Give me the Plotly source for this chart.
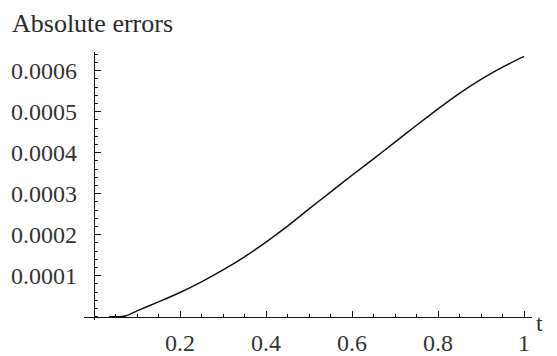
import plotly.graph_objects as go

# Data
t_vals = [0.035, 0.06, 0.075, 0.1, 0.15, 0.2, 0.25, 0.3, 0.35, 0.4, 0.45, 0.5,
          0.55, 0.6, 0.65, 0.7, 0.75, 0.8, 0.85, 0.9, 0.95, 1.0]
err_vals = [0.0, 0.0, 0.02e-4, 0.14e-4, 0.36e-4, 0.59e-4, 0.85e-4, 1.14e-4, 1.46e-4,
            1.82e-4, 2.21e-4, 2.63e-4, 3.04e-4, 3.45e-4, 3.85e-4, 4.26e-4,
            4.67e-4, 5.07e-4, 5.45e-4, 5.79e-4, 6.09e-4, 6.35e-4]

x_tickvals = [0.2, 0.4, 0.6, 0.8, 1.0]
x_ticktext = ["0.2", "0.4", "0.6", "0.8", "1"]
y_tickvals = [0.0001, 0.0002, 0.0003, 0.0004, 0.0005, 0.0006]
y_ticktext = ["0.0001", "0.0002", "0.0003", "0.0004", "0.0005", "0.0006"]

W, H = 557, 356
FONT = "Liberation Serif, Times New Roman, serif"
TXT = "#333333"
TICK_SIZE = 24

# pixel geometry
x0_px, x_end_l, x_end_r = 94, 84, 532
px_per_t = 430.0
y0_px, y_top, y_bot = 323, 53, 326
px_per_v = 418000.0

xr = [(x_end_l - x0_px) / px_per_t, (x_end_r - x0_px) / px_per_t]
yr = [(y0_px - y_bot) / px_per_v, (y0_px - y_top) / px_per_v]

fig = go.Figure()
fig.add_trace(go.Scatter(x=t_vals, y=err_vals, mode="lines",
                         line=dict(color="#111111", width=1.5, shape="spline", smoothing=0.6),
                         hoverinfo="skip", showlegend=False))

fig.update_layout(
    width=W, height=H,
    margin=dict(l=0, r=0, t=0, b=0),
    paper_bgcolor="white", plot_bgcolor="white",
    showlegend=False,
    xaxis=dict(
        domain=[x_end_l / W, x_end_r / W], range=xr,
        anchor="free", position=1 - y0_px / H,
        showgrid=False, zeroline=False,
        showline=True, linecolor="#111111", linewidth=1.2,
        ticks="inside", ticklen=6, tickwidth=1.2, tickcolor="#111111",
        tickvals=x_tickvals, ticktext=x_ticktext,
        tickfont=dict(family=FONT, size=TICK_SIZE, color=TXT),
        ticklabelstandoff=4,
        minor=dict(dtick=0.05, tick0=0, ticks="inside", ticklen=3,
                   tickwidth=1, tickcolor="#111111", showgrid=False),
    ),
    yaxis=dict(
        domain=[1 - y_bot / H, 1 - y_top / H], range=yr,
        anchor="free", position=x0_px / W,
        showgrid=False, zeroline=False,
        showline=True, linecolor="#111111", linewidth=1.2,
        ticks="inside", ticklen=6, tickwidth=1.2, tickcolor="#111111",
        tickvals=y_tickvals, ticktext=y_ticktext,
        tickfont=dict(family=FONT, size=TICK_SIZE, color=TXT),
        ticklabelstandoff=12,
        minor=dict(dtick=0.00002, tick0=0, ticks="inside", ticklen=3,
                   tickwidth=1, tickcolor="#111111", showgrid=False),
    ),
    annotations=[
        dict(text="Absolute errors", x=10 / W, y=1 - 24 / H, xref="paper", yref="paper",
             xanchor="left", yanchor="middle", showarrow=False,
             font=dict(family=FONT, size=26, color="#2a2a2a")),
        dict(text="t", x=539 / W, y=1 - 329 / H, xref="paper", yref="paper",
             xanchor="center", yanchor="middle", showarrow=False,
             font=dict(family=FONT, size=TICK_SIZE, color=TXT)),
    ],
)

fig.write_html("out.html", config={"displayModeBar": False},
               post_script="document.body.style.margin='0';document.body.style.overflow='hidden';")
